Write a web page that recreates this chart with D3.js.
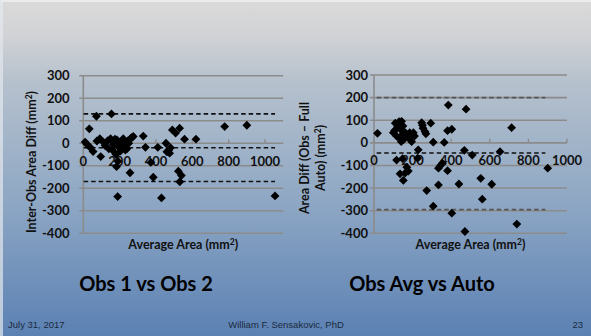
<!DOCTYPE html>
<html>
<head>
<meta charset="utf-8">
<script src="https://cdn.jsdelivr.net/npm/d3@7"></script>
<style>
  html, body { margin: 0; padding: 0; overflow: hidden; }
  svg { display: block; }
</style>
</head>
<body>
<svg id="slide" width="591" height="336"></svg>
<script>
// [average area, difference] in mm2
const obsPairs = [
  [10,5],[20,-5],[33,64],[40,-20],[54,-37],[72,120],[75,10],[91,20],[96,-59],[110,5],
  [120,-10],[135,12],[140,-25],[150,20],[155,130],[160,-30],[165,-5],[174,18],[180,-50],[183,-104],
  [185,15],[190,-10],[190,-80],[195,5],[200,-20],[205,-35],[210,10],[215,-5],[220,20],[225,-15],
  [230,0],[231,-30],[240,-25],[245,10],[250,0],[255,15],[257,-131],[265,25],[275,30],[189,-237],
  [330,32],[342,-18],[372,-85],[385,-151],[410,-18],[430,-243],[455,0],[460,-38],[470,-30],[475,-44],
  [480,-20],[490,59],[508,45],[530,67],[557,18],[523,-124],[540,-143],[531,-171],[620,18],[778,74],
  [900,80],[1055,-234]
];
const autoPairs = [
  [18,42],[100,45],[110,87],[130,94],[143,95],[122,70],[137,60],[117,30],[132,20],[146,35],
  [152,13],[156,50],[166,40],[176,25],[185,45],[195,5],[204,45],[210,30],[107,55],[141,5],
  [128,80],[150,75],[247,89],[251,78],[264,50],[269,40],[254,65],[294,87],[307,3],[364,2],
  [229,-31],[226,-68],[117,-76],[148,-70],[170,-108],[178,-125],[135,-137],[161,-134],[152,-166],[273,-211],
  [307,-280],[334,-186],[334,-112],[345,-100],[354,-90],[381,-123],[385,167],[381,54],[403,60],[403,-311],
  [440,-182],[468,-33],[477,149],[471,-392],[509,-54],[553,-157],[561,-249],[610,-183],[653,-39],[713,67],
  [740,-359],[900,-112]
];
// upper limit, mean, lower limit
const obsLimits = [130, -20, -170];
const autoLimits = [200, -45, -295];
const yTicks = [300, 200, 100, 0, -100, -200, -300, -400];
const xTicks = [0, 200, 400, 600, 800, 1000];

const svg = d3.select('#slide');

const grad = svg.append('defs').append('linearGradient')
  .attr('id', 'bg').attr('x1', 0).attr('y1', 0).attr('x2', 0).attr('y2', 1);
grad.append('stop').attr('offset', '0%').attr('stop-color', '#dadada');
grad.append('stop').attr('offset', '10%').attr('stop-color', '#d2d3d6');
grad.append('stop').attr('offset', '24%').attr('stop-color', '#b6c1cd');
grad.append('stop').attr('offset', '60%').attr('stop-color', '#8ea7c4');
grad.append('stop').attr('offset', '100%').attr('stop-color', '#5b81b3');

svg.append('rect').attr('width', 591).attr('height', 336).attr('fill', 'url(#bg)');
svg.append('rect').attr('width', 591).attr('height', 2).attr('fill', '#ececec');
svg.append('rect').attr('width', 3).attr('height', 336).attr('fill', '#e4e8ee').attr('opacity', 0.7);

const font = 'Lato, "Open Sans", sans-serif';
const diamond = 'M0,-4.4L4.4,0L0,4.4L-4.4,0Z';

function panel(cfg) {
  const x = d3.scaleLinear().domain(cfg.xDomain).range(cfg.xRange);
  const y = d3.scaleLinear().domain([300, -400]).range(cfg.yRange);
  const g = svg.append('g');

  // gridlines
  g.selectAll('.grid').data(yTicks).enter().append('line')
    .attr('x1', cfg.xRange[0] - 4).attr('x2', cfg.xRange[1])
    .attr('y1', d => y(d)).attr('y2', d => y(d))
    .attr('stroke', '#8b8b8b').attr('stroke-width', 1.6);

  // vertical axis
  g.append('line')
    .attr('x1', x(0)).attr('x2', x(0))
    .attr('y1', y(300)).attr('y2', y(-400))
    .attr('stroke', '#8b8b8b').attr('stroke-width', 1.6);

  // x ticks on zero line
  g.selectAll('.xt').data(xTicks).enter().append('line')
    .attr('x1', d => x(d)).attr('x2', d => x(d))
    .attr('y1', y(0)).attr('y2', y(0) - 4)
    .attr('stroke', '#8b8b8b').attr('stroke-width', 1.4);

  // y tick labels
  g.selectAll('.yl').data(yTicks).enter().append('text')
    .attr('x', cfg.yLabelX).attr('y', d => y(d) + 4.6)
    .attr('text-anchor', 'end')
    .style('font-family', font).style('font-weight', 'bold').style('font-size', '13px')
    .attr('fill', '#111')
    .text(d => d);

  // dashed limit lines
  g.selectAll('.lim').data(cfg.limits).enter().append('line')
    .attr('x1', x(cfg.limitSpan[0])).attr('x2', x(cfg.limitSpan[1]))
    .attr('y1', d => y(d)).attr('y2', d => y(d))
    .attr('stroke', (d, i) => cfg.limitColors[i])
    .attr('stroke-width', 1.7)
    .attr('stroke-dasharray', '4.5,3');

  // x tick labels
  g.selectAll('.xl').data(xTicks).enter().append('text')
    .attr('x', d => x(d)).attr('y', cfg.xLabelY)
    .attr('text-anchor', 'middle')
    .style('font-family', font).style('font-weight', 'bold').style('font-size', '13px')
    .attr('fill', '#111')
    .text(d => d);

  // points
  g.selectAll('.pt').data(cfg.data).enter().append('path')
    .attr('d', diamond)
    .attr('transform', d => 'translate(' + x(d[0]) + ',' + y(d[1]) + ')')
    .attr('fill', '#000');

  // x title
  const xt = g.append('text')
    .attr('x', (cfg.xRange[0] + cfg.xRange[1]) / 2).attr('y', 249)
    .attr('text-anchor', 'middle')
    .style('font-family', font).style('font-weight', 'bold').style('font-size', '12.5px')
    .attr('fill', '#111');
  xt.append('tspan').text('Average Area (mm');
  xt.append('tspan').attr('dy', -4).style('font-size', '8.5px').text('2');
  xt.append('tspan').attr('dy', 4).text(')');

  // y title
  cfg.yTitle.forEach((line, i) => {
    const t = g.append('text')
      .attr('transform', 'translate(' + cfg.yTitleX[i] + ',' + cfg.yTitleY + ') rotate(-90)')
      .attr('text-anchor', 'middle')
      .style('font-family', font).style('font-weight', 'bold').style('font-size', '12.5px')
      .attr('fill', '#111');
    t.append('tspan').text(line[0]);
    if (line[1]) {
      t.append('tspan').attr('dy', -4).style('font-size', '8.5px').text('2');
      t.append('tspan').attr('dy', 4).text(')');
    }
  });

  // big title
  svg.append('text')
    .attr('x', cfg.titleX).attr('y', 291)
    .attr('text-anchor', 'middle')
    .style('font-family', font).style('font-weight', 'bold').style('font-size', '20px')
    .attr('fill', '#000')
    .text(cfg.title);
}

panel({
  data: obsPairs, limits: obsLimits, limitColors: ['#111', '#111', '#111'],
  xDomain: [0, 1100], xRange: [83.3, 283.2], yRange: [75.7, 233.3],
  limitSpan: [2, 1055], yLabelX: 69.5, xLabelY: 166,
  yTitle: [['Inter-Obs Area Diff (mm', true]], yTitleX: [36], yTitleY: 162,
  title: 'Obs 1 vs Obs 2', titleX: 146
});

panel({
  data: autoPairs, limits: autoLimits, limitColors: ['#555', '#111', '#555'],
  xDomain: [0, 1000], xRange: [374, 567], yRange: [75, 233.3],
  limitSpan: [14, 888], yLabelX: 368, xLabelY: 165,
  yTitle: [['Area Diff (Obs \u2013 Full', false], ['Auto)  (mm', true]], yTitleX: [309, 325], yTitleY: 158,
  title: 'Obs Avg vs Auto', titleX: 422
});

// footer
const foot = 'Liberation Sans, Arial, sans-serif';
svg.append('text').attr('x', 8).attr('y', 328)
  .style('font-family', foot).style('font-size', '9.5px').attr('fill', '#1a2a40')
  .text('July 31, 2017');
svg.append('text').attr('x', 286).attr('y', 328).attr('text-anchor', 'middle')
  .style('font-family', foot).style('font-size', '9.5px').attr('fill', '#1a2a40')
  .text('William F. Sensakovic, PhD');
svg.append('text').attr('x', 583).attr('y', 328).attr('text-anchor', 'end')
  .style('font-family', foot).style('font-size', '9.5px').attr('fill', '#1a2a40')
  .text('23');
</script>
</body>
</html>
